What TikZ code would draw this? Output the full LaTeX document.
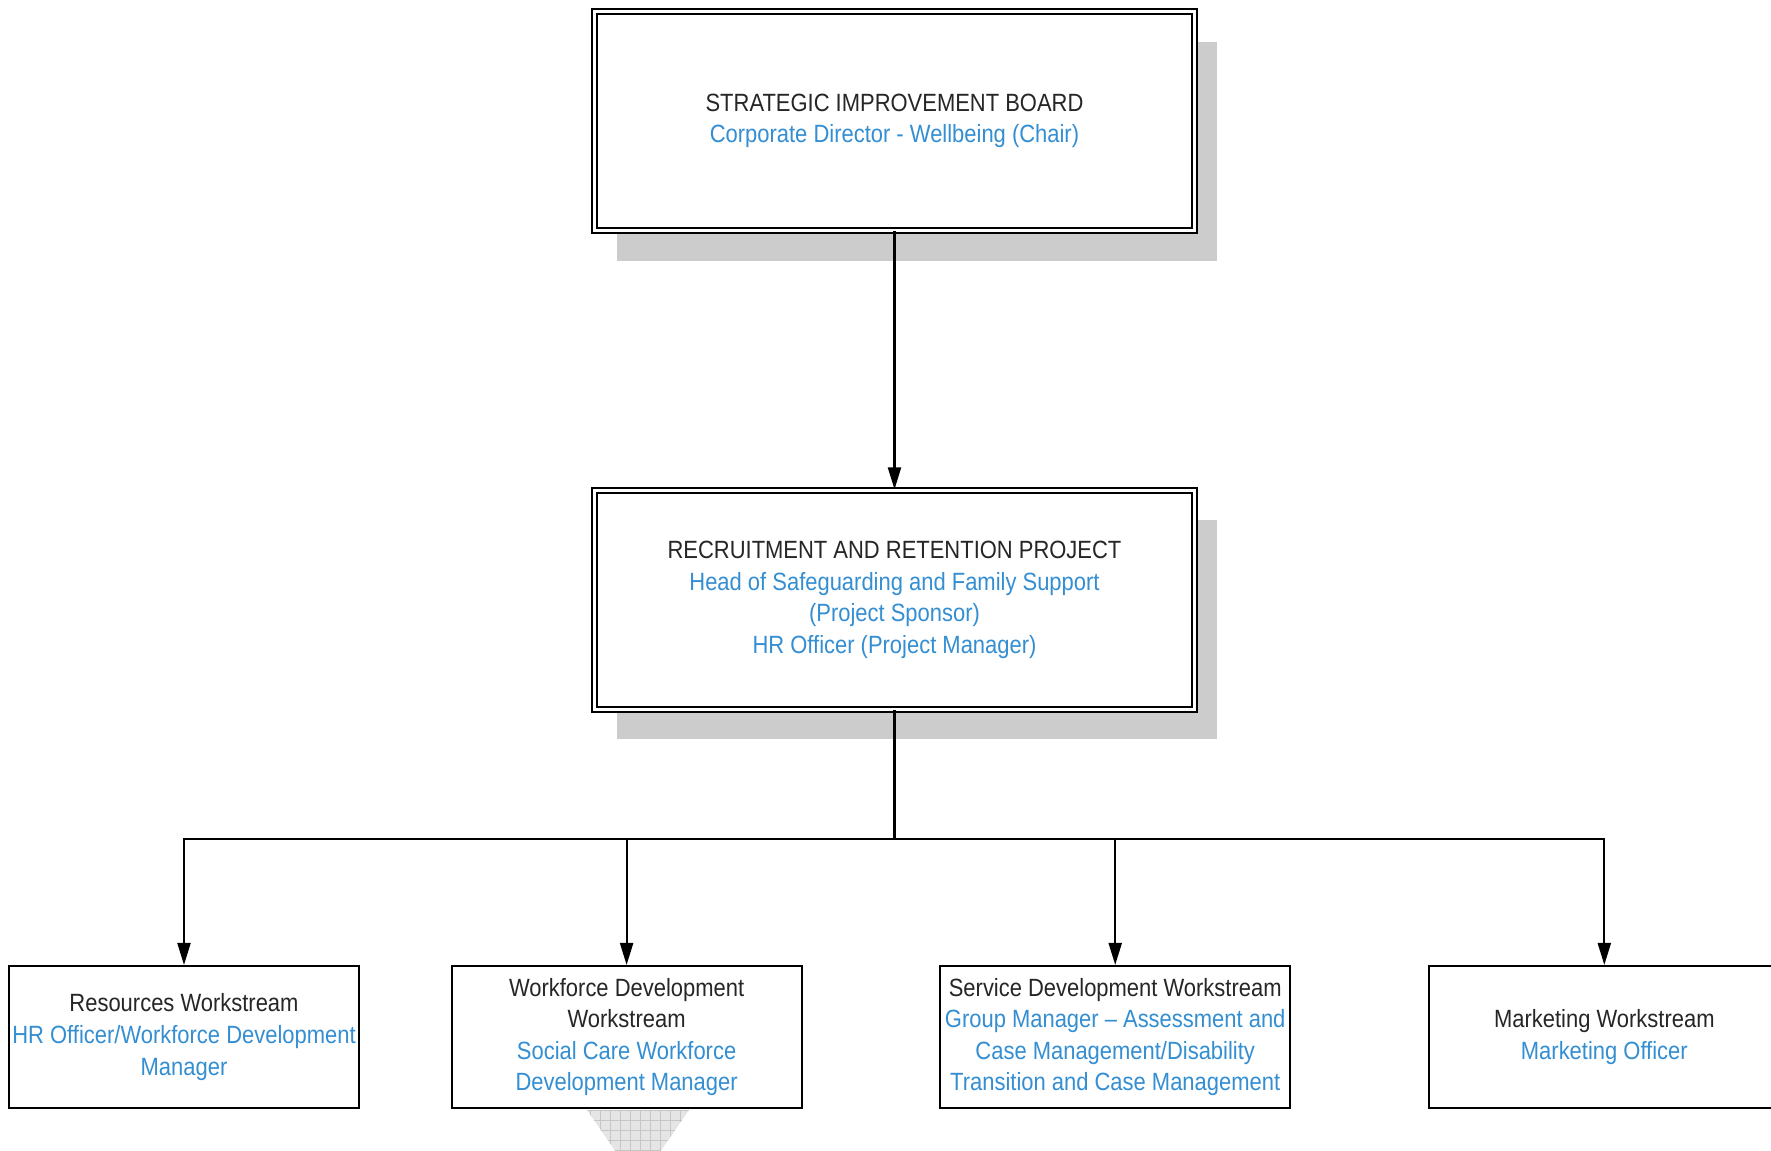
\documentclass[tikz,border=0pt]{standalone}
\usepackage{fontspec}
\setmainfont{Liberation Sans}[FakeStretch=0.88]
\usetikzlibrary{arrows.meta, positioning, shadows}
\definecolor{roleBlue}{RGB}{52,142,210}
\tikzstyle{recNode} = [rectangle, draw=black, fill=white, text=black!85, align=center, inner sep=0pt, font=\fontsize{7.1}{9}\selectfont]
\tikzstyle{recNodeD} = [recNode, minimum width=6.0cm, minimum height=2.19cm, double, double distance=0.035cm, line width=0.5pt, drop shadow={shadow xshift=0.22cm, shadow yshift=-0.30cm, fill=gray!40, opacity=1}]
\tikzstyle{recNodeS} = [recNode, minimum width=3.5cm, minimum height=1.42cm, line width=0.6pt]
\tikzstyle{arrow} = [line width=0.6pt,-{Triangle[length=0.22cm,width=0.13cm]},draw=black]
\newcommand{\roleText}[1]{\textcolor{roleBlue}{#1}}

\begin{document}
\begin{tikzpicture}
        \useasboundingbox (0,0) rectangle (17.71,-11.51);
        \node (board) [recNodeD] at (8.945,-1.21) {STRATEGIC IMPROVEMENT BOARD\\ \roleText{Corporate Director - Wellbeing (Chair)}};
        \node (project) [recNodeD, below=2.58cm of board] {RECRUITMENT AND RETENTION PROJECT\\ \roleText{Head of Safeguarding and Family Support}\\ \roleText{(Project Sponsor)}\\ \roleText{HR Officer (Project Manager)}};
        \coordinate [below=1.29cm of project.south] (bus);
        \node (resources) [recNodeS] at (1.84,-10.37) {Resources Workstream\\ \roleText{HR Officer/Workforce Development}\\ \roleText{Manager}};
        \node (workforce) [recNodeS, right=0.905cm of resources] {Workforce Development\\ Workstream\\ \roleText{Social Care Workforce}\\ \roleText{Development Manager}};
        \node (service) [recNodeS, right=1.365cm of workforce] {Service Development Workstream\\ \roleText{Group Manager -- Assessment and}\\ \roleText{Case Management/Disability}\\ \roleText{Transition and Case Management}};
        \node (marketing) [recNodeS, right=1.37cm of service] {Marketing Workstream\\ \roleText{Marketing Officer}};

        \draw [arrow] (board) -- (project);
        \draw [arrow] (project) -- (bus) -| (resources);
        \draw [arrow] (project) -- (bus) -| (workforce);
        \draw [arrow] (project) -- (bus) -| (service);
        \draw [arrow] (project) -- (bus) -| (marketing);

        % hatched wedge under the workforce box
        \begin{scope}
            \clip (5.87,-11.10) -- (6.89,-11.10) -- (6.38,-11.84) -- cycle;
            \fill [gray!20] (5.8,-11.9) rectangle (6.9,-11.0);
            \draw [gray!45, line width=0.2pt, step=0.1cm] (5.8,-11.9) grid (6.9,-11.0);
        \end{scope}
    \end{tikzpicture}
\end{document}
